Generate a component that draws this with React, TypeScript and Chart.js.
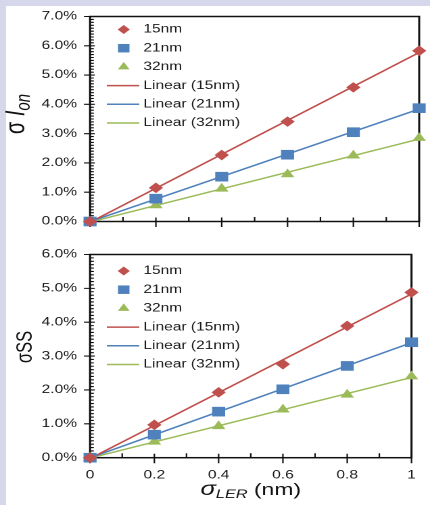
import React, { useEffect, useRef } from 'react';
import { Chart, registerables } from 'chart.js';

Chart.register(...registerables);

// ---- data ----
const xValues = [0, 0.2, 0.4, 0.6, 0.8, 1];
const seriesNames = ['15nm', '21nm', '32nm'];
const ionValues15 = [0, 1.15, 2.27, 3.41, 4.58, 5.83];
const ionValues21 = [0, 0.78, 1.53, 2.28, 3.05, 3.87];
const ionValues32 = [0, 0.55, 1.12, 1.61, 2.25, 2.85];
const ssValues15 = [0, 0.97, 1.93, 2.76, 3.89, 4.88];
const ssValues21 = [0, 0.68, 1.36, 2.02, 2.71, 3.41];
const ssValues32 = [0, 0.47, 0.93, 1.42, 1.86, 2.4];
const ionTickLabels = ['0.0%', '1.0%', '2.0%', '3.0%', '4.0%', '5.0%', '6.0%', '7.0%'];
const ssTickLabels = ['0.0%', '1.0%', '2.0%', '3.0%', '4.0%', '5.0%', '6.0%'];
const xTickLabels = ['0', '0.2', '0.4', '0.6', '0.8', '1'];

// ---- styles ----
const COLORS = ['#c0504d', '#4f81bd', '#9bbb59'];
const STYLES = ['rectRot', 'rect', 'triangle'];
const RADII = [5.3, 6.8, 5.8];
const W = 318;
const FONT = "'Liberation Sans', Arial, sans-serif";
const INK = '#111111';
const TEXT = '#1a1a1a';

function linearFit(xs: number[], ys: number[]) {
  const n = xs.length;
  const mx = xs.reduce((a, b) => a + b, 0) / n;
  const my = ys.reduce((a, b) => a + b, 0) / n;
  let sxy = 0, sxx = 0;
  for (let i = 0; i < n; i++) { sxy += (xs[i] - mx) * (ys[i] - my); sxx += (xs[i] - mx) ** 2; }
  const m = sxy / sxx;
  return { m, b: my - m * mx };
}

type Part = { t: string; font: string; dy?: number };

function drawRich(ctx: CanvasRenderingContext2D, parts: Part[], x: number, y: number) {
  let total = 0;
  const widths = parts.map((p) => { ctx.font = p.font; const w = ctx.measureText(p.t).width; total += w; return w; });
  let cx = x - total / 2;
  ctx.textAlign = 'left';
  ctx.textBaseline = 'alphabetic';
  parts.forEach((p, i) => { ctx.font = p.font; ctx.fillText(p.t, cx, y + (p.dy || 0)); cx += widths[i]; });
}

function drawMarker(ctx: CanvasRenderingContext2D, style: string, x: number, y: number, r: number) {
  ctx.beginPath();
  if (style === 'rectRot') {
    ctx.moveTo(x - r, y); ctx.lineTo(x, y - r); ctx.lineTo(x + r, y); ctx.lineTo(x, y + r);
  } else if (style === 'rect') {
    const s = r * Math.SQRT1_2; ctx.rect(x - s, y - s, 2 * s, 2 * s);
  } else {
    for (let k = 0; k < 3; k++) {
      const a = (k * 2 * Math.PI) / 3;
      const px = x + Math.sin(a) * r, py = y - Math.cos(a) * r;
      if (k === 0) ctx.moveTo(px, py); else ctx.lineTo(px, py);
    }
  }
  ctx.closePath();
  ctx.fill();
}

type Panel = {
  key: string;
  values: number[][];
  tickLabels: string[];
  yMax: number;
  offsetTop: number;
  height: number;
  plotTop: number;
  plotBottom: number;
  showX: boolean;
  legendTop: number;
  yTitle: Part[];
  yTitleX: number;
  yTitleY: number;
};

const PLOT_LEFT = 66.6;
const PLOT_RIGHT = 310;

const panels: Panel[] = [
  {
    key: 'ion', values: [ionValues15, ionValues21, ionValues32], tickLabels: ionTickLabels, yMax: 7,
    offsetTop: 0, height: 238, plotTop: 16.5, plotBottom: 227.7, showX: false, legendTop: 13,
    yTitle: [
      { t: 'σ ', font: `20px ${FONT}` },
      { t: 'I', font: `italic 20px ${FONT}` },
      { t: 'on', font: `italic 15px ${FONT}`, dy: 4 },
    ],
    yTitleX: 18, yTitleY: 114,
  },
  {
    key: 'ss', values: [ssValues15, ssValues21, ssValues32], tickLabels: ssTickLabels, yMax: 6,
    offsetTop: 238, height: 267, plotTop: 8.7, plotBottom: 219.7, showX: true, legendTop: 16.5,
    yTitle: [{ t: 'σSS', font: `16.5px ${FONT}` }],
    yTitleX: 23.5, yTitleY: 109,
  },
];

function decorPlugin(p: Panel) {
  return {
    id: 'decor_' + p.key,
    beforeDatasetsDraw(chart: any) {
      const { ctx, chartArea: a } = chart;
      const xs = chart.scales.x, ys = chart.scales.y;
      ctx.save();
      ctx.strokeStyle = INK;
      ctx.lineWidth = 1.5;
      ctx.strokeRect(a.left, a.top, a.right - a.left, a.bottom - a.top);
      ctx.lineWidth = 1.1;
      ctx.beginPath();
      const nY = Math.round(p.yMax * 10);
      for (let i = 0; i <= nY; i++) {
        const y = ys.getPixelForValue(i / 10);
        if (i % 10 === 0) { ctx.moveTo(a.left - 4.5, y); ctx.lineTo(a.left + 3.5, y); }
        else { ctx.moveTo(a.left, y); ctx.lineTo(a.left + 2.8, y); }
      }
      for (let i = 0; i <= 10; i++) {
        const x = xs.getPixelForValue(i / 10);
        if (i % 2 === 0) { ctx.moveTo(x, a.bottom - 4); ctx.lineTo(x, a.bottom + 5.5); }
        else { ctx.moveTo(x, a.bottom - 4.5); ctx.lineTo(x, a.bottom); }
      }
      ctx.stroke();
      ctx.restore();
    },
    afterDraw(chart: any) {
      const { ctx, chartArea: a } = chart;
      ctx.save();
      // legend
      const rowH = 18.7;
      ctx.textBaseline = 'middle';
      ctx.textAlign = 'left';
      seriesNames.forEach((name, i) => {
        const y = a.top + p.legendTop + i * rowH;
        ctx.fillStyle = COLORS[i];
        drawMarker(ctx, STYLES[i], 91.5, y, RADII[i] - 0.8);
        ctx.fillStyle = TEXT;
        ctx.font = `11.5px ${FONT}`;
        ctx.fillText(name, 106, y);
      });
      seriesNames.forEach((name, i) => {
        const y = a.top + p.legendTop + (i + 3) * rowH;
        ctx.strokeStyle = COLORS[i];
        ctx.lineWidth = 1.5;
        ctx.beginPath(); ctx.moveTo(79, y); ctx.lineTo(103, y); ctx.stroke();
        ctx.fillStyle = TEXT;
        ctx.font = `11.5px ${FONT}`;
        ctx.fillText(`Linear (${name})`, 106, y);
      });
      // y title
      ctx.fillStyle = '#111';
      ctx.save();
      ctx.translate(p.yTitleX, p.yTitleY);
      ctx.rotate(-Math.PI / 2);
      drawRich(ctx, p.yTitle, 0, 0);
      ctx.restore();
      // x title
      if (p.showX) {
        ctx.fillStyle = '#111';
        drawRich(ctx, [
          { t: 'σ', font: `italic 19px ${FONT}` },
          { t: 'LER', font: `italic 12px ${FONT}`, dy: 3 },
          { t: ' (nm)', font: `17px ${FONT}` },
        ], (a.left + a.right) / 2, 257);
      }
      ctx.restore();
    },
  };
}

function makeConfig(p: Panel): any {
  const datasets: any[] = [];
  p.values.forEach((vals, i) => {
    datasets.push({
      type: 'scatter',
      label: seriesNames[i],
      data: xValues.map((x, j) => ({ x, y: vals[j] })),
      pointStyle: STYLES[i],
      pointRadius: RADII[i],
      backgroundColor: COLORS[i],
      borderColor: COLORS[i],
      borderWidth: 0,
      showLine: false,
      clip: false,
    });
  });
  p.values.forEach((vals, i) => {
    const { m, b } = linearFit(xValues, vals);
    const x0 = xValues[0], x1 = xValues[xValues.length - 1];
    datasets.push({
      type: 'line',
      label: `Linear (${seriesNames[i]})`,
      data: [{ x: x0, y: m * x0 + b }, { x: x1, y: m * x1 + b }],
      borderColor: COLORS[i],
      borderWidth: 1.5,
      pointRadius: 0,
      fill: false,
      clip: false,
    });
  });
  return {
    type: 'scatter',
    data: { datasets },
    plugins: [decorPlugin(p)],
    options: {
      responsive: false,
      animation: false,
      devicePixelRatio: 2,
      events: [],
      layout: { autoPadding: false, padding: { left: 0, top: p.plotTop, right: W - PLOT_RIGHT, bottom: 0 } },
      plugins: { legend: { display: false }, tooltip: { enabled: false }, title: { display: false } },
      scales: {
        x: {
          type: 'linear', min: 0, max: 1,
          grid: { display: true, drawOnChartArea: false, drawTicks: false, color: 'rgba(0,0,0,0)' },
          border: { display: false },
          ticks: {
            display: p.showX, stepSize: 0.2, padding: 10.5, color: TEXT,
            font: { family: FONT, size: 11.5 },
            maxRotation: 0, autoSkip: false,
            callback: (v: number) => xTickLabels[Math.round(v * 5)] ?? '',
          },
          afterFit: (s: any) => { s.height = p.height - p.plotBottom; },
        },
        y: {
          type: 'linear', min: 0, max: p.yMax,
          grid: { display: true, drawOnChartArea: false, drawTicks: false, color: 'rgba(0,0,0,0)' },
          border: { display: false },
          ticks: {
            stepSize: 1, padding: 9.6, color: TEXT,
            font: { family: FONT, size: 11.5 },
            autoSkip: false,
            callback: (v: number) => p.tickLabels[Math.round(v)] ?? '',
          },
          afterFit: (s: any) => { s.width = PLOT_LEFT; },
        },
      },
    },
  };
}

function PanelChart({ p }: { p: Panel }) {
  const ref = useRef<HTMLCanvasElement>(null);
  useEffect(() => {
    if (!ref.current) return;
    const chart = new Chart(ref.current, makeConfig(p));
    return () => chart.destroy();
  }, [p]);
  return (
    <canvas
      ref={ref}
      width={W}
      height={p.height}
      style={{ position: 'absolute', left: 0, top: p.offsetTop, width: '430px', height: `${p.height}px` }}
    />
  );
}

export default function App() {
  return (
    <div style={{ position: 'absolute', left: 0, top: 0, width: 430, height: 505, background: '#ffffff', overflow: 'hidden' }}>
      <div style={{ position: 'absolute', left: 0, top: 0, width: 6, height: 505, background: '#d7d7eb' }} />
      <div style={{ position: 'absolute', left: 0, top: 0, width: 430, height: 6, background: '#d7d7eb' }} />
      {panels.map((p) => <PanelChart key={p.key} p={p} />)}
    </div>
  );
}
